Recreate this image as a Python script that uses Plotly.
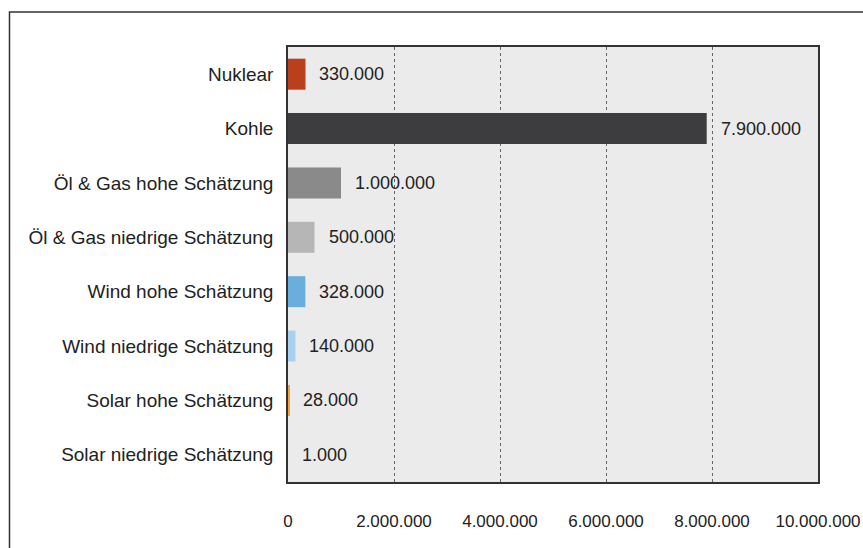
import plotly.graph_objects as go

categories = ["Nuklear", "Kohle", "Öl & Gas hohe Schätzung", "Öl & Gas niedrige Schätzung",
              "Wind hohe Schätzung", "Wind niedrige Schätzung", "Solar hohe Schätzung",
              "Solar niedrige Schätzung"]
values = [330000, 7900000, 1000000, 500000, 328000, 140000, 28000, 1000]
colors = ["#BA3F1C", "#3D3D3F", "#8A8A8A", "#B6B6B6", "#6AAEDD", "#A9D0F0", "#F2A33A", "rgba(0,0,0,0)"]
x_ticks = [0, 2000000, 4000000, 6000000, 8000000, 10000000]

FONT = "Liberation Sans, Arial, sans-serif"

def fmt(v):
    return f"{v:,}".replace(",", ".")

fig = go.Figure()
fig.add_trace(go.Bar(
    y=categories, x=values, orientation="h",
    marker=dict(color=colors, line=dict(width=0)),
    hoverinfo="skip",
))

for c, v in zip(categories, values):
    fig.add_annotation(x=v, y=c, text=fmt(v), showarrow=False, xanchor="left",
                       xshift=12, font=dict(family=FONT, size=18, color="#222"))

fig.add_shape(type="rect", xref="paper", yref="paper", x0=-0.5255, x1=1.3, y0=-0.4, y1=1.0805,
              line=dict(color="#333", width=1.5), fillcolor="rgba(0,0,0,0)", layer="below")

fig.update_layout(
    template="none",
    width=863, height=548,
    margin=dict(l=288, r=45, t=47, b=66, autoexpand=False),
    paper_bgcolor="white", plot_bgcolor="#EAEBEA",
    bargap=0.43, showlegend=False,
    font=dict(family=FONT, size=18, color="#222"),
    xaxis=dict(range=[0, 10000000], tickvals=x_ticks, ticktext=[fmt(t) for t in x_ticks],
               tickfont=dict(size=17),
               showgrid=True, gridcolor="#666", griddash="dot", gridwidth=1,
               showline=True, linecolor="#333", linewidth=1.5, mirror=True, automargin=False,
               ticks="", ticklabelstandoff=23, zeroline=False, fixedrange=True),
    yaxis=dict(autorange="reversed", showgrid=False, showline=True, linecolor="#333",
               linewidth=1.5, mirror=True, ticks="", ticklabelstandoff=9, automargin=False,
               tickfont=dict(size=19), fixedrange=True),
)

fig.write_html("out.html", config={"displayModeBar": False},
               post_script="document.body.style.margin='0';")
